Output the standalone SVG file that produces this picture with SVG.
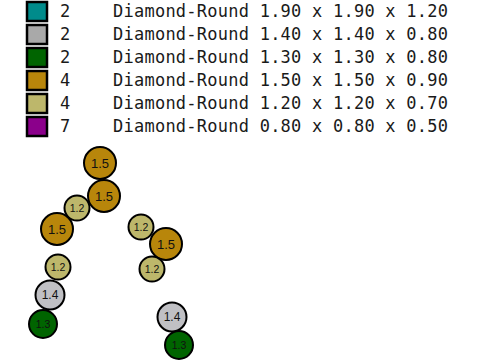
<svg xmlns="http://www.w3.org/2000/svg" width="480" height="360" viewBox="0 0 480 360">
<style>
.sw{stroke:#000;stroke-width:2.5}
.lt{font-family:"DejaVu Sans Mono","Liberation Mono",monospace;font-size:17px;fill:#1a1a1a}
.n circle{stroke:#000;stroke-width:2}
.n text{font-family:"Liberation Sans",Arial,sans-serif;fill:#111;text-anchor:middle;dominant-baseline:central}
.b text{font-size:13px}
.s text{font-size:10.5px}
.m text{font-size:12px}
.gold{fill:#B8860B}.khaki{fill:#BDB76B}.gray{fill:#C0C0C4}.green{fill:#006400}
</style>
<rect width="480" height="360" fill="#fff"/>
<g id="legend">
<rect class="sw" x="27" y="2" width="20" height="19" fill="#008B8B"/>
<rect class="sw" x="27" y="25" width="20" height="19" fill="#A9A9A9"/>
<rect class="sw" x="27" y="48" width="20" height="19" fill="#006400"/>
<rect class="sw" x="27" y="71" width="20" height="19" fill="#B8860B"/>
<rect class="sw" x="27" y="94" width="20" height="19" fill="#BDB76B"/>
<rect class="sw" x="27" y="117" width="20" height="19" fill="#8B008B"/>
<text class="lt" x="60" y="17">2</text>
<text class="lt" x="60" y="40">2</text>
<text class="lt" x="60" y="63">2</text>
<text class="lt" x="60" y="86">4</text>
<text class="lt" x="60" y="109">4</text>
<text class="lt" x="60" y="132">7</text>
<text class="lt" x="113" y="17" textLength="335" lengthAdjust="spacing">Diamond-Round 1.90 x 1.90 x 1.20</text>
<text class="lt" x="113" y="40" textLength="335" lengthAdjust="spacing">Diamond-Round 1.40 x 1.40 x 0.80</text>
<text class="lt" x="113" y="63" textLength="335" lengthAdjust="spacing">Diamond-Round 1.30 x 1.30 x 0.80</text>
<text class="lt" x="113" y="86" textLength="335" lengthAdjust="spacing">Diamond-Round 1.50 x 1.50 x 0.90</text>
<text class="lt" x="113" y="109" textLength="335" lengthAdjust="spacing">Diamond-Round 1.20 x 1.20 x 0.70</text>
<text class="lt" x="113" y="132" textLength="335" lengthAdjust="spacing">Diamond-Round 0.80 x 0.80 x 0.50</text>
</g>
<g id="connectors"></g>
<g id="n1" class="n b"><circle class="gold" cx="100" cy="163" r="16"/><text x="100" y="163">1.5</text></g>
<g id="n2" class="n b"><circle class="gold" cx="104" cy="196" r="16"/><text x="104" y="196">1.5</text></g>
<g id="n3" class="n s"><circle class="khaki" cx="77" cy="208" r="12.5"/><text x="77" y="208">1.2</text></g>
<g id="n4" class="n b"><circle class="gold" cx="57" cy="229" r="16"/><text x="57" y="229">1.5</text></g>
<g id="n5" class="n s"><circle class="khaki" cx="58" cy="267" r="12.5"/><text x="58" y="267">1.2</text></g>
<g id="n6" class="n m"><circle class="gray" cx="50" cy="295" r="14.5"/><text x="50" y="295">1.4</text></g>
<g id="n7" class="n s"><circle class="green" cx="43" cy="324" r="14"/><text x="43" y="324">1.3</text></g>
<g id="n8" class="n s"><circle class="khaki" cx="141" cy="227" r="12.5"/><text x="141" y="227">1.2</text></g>
<g id="n9" class="n b"><circle class="gold" cx="166" cy="244" r="16"/><text x="166" y="244">1.5</text></g>
<g id="n10" class="n s"><circle class="khaki" cx="152" cy="269" r="12.5"/><text x="152" y="269">1.2</text></g>
<g id="n11" class="n m"><circle class="gray" cx="172" cy="317" r="14.5"/><text x="172" y="317">1.4</text></g>
<g id="n12" class="n s"><circle class="green" cx="179" cy="345" r="14"/><text x="179" y="345">1.3</text></g>
</svg>
